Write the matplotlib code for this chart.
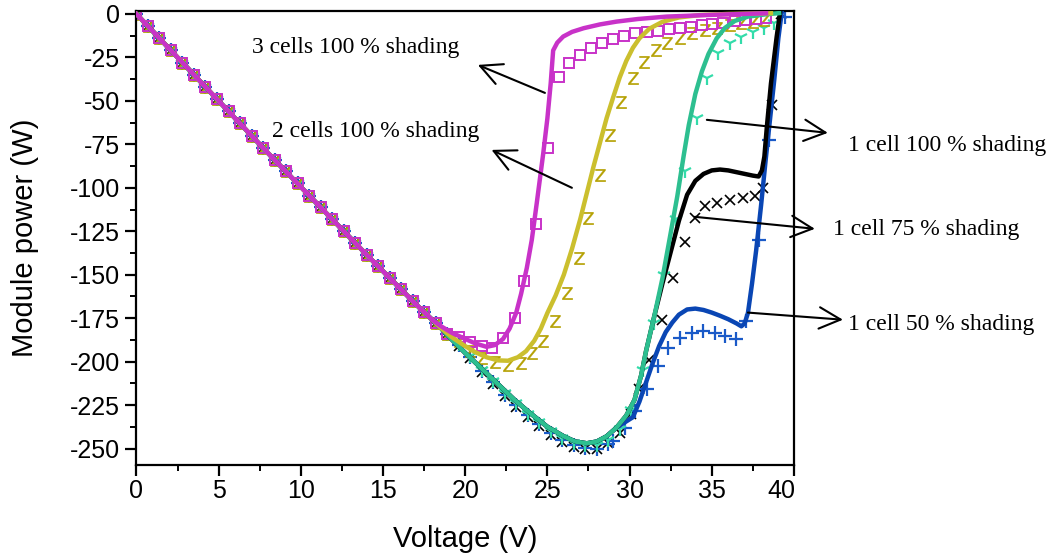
import matplotlib
matplotlib.use("Agg")
import matplotlib.pyplot as plt
from matplotlib.ticker import MultipleLocator, FuncFormatter

plt.rcParams["axes.unicode_minus"] = False
plt.rcParams["font.family"] = "Liberation Sans"

# ---- line data (V, W) ----
# common unshaded start, shared by every case
base_v = [0, 2, 4, 6, 8, 10, 12, 14, 16, 17, 18]
base_p = [0, -20, -40, -60, -80, -99.5, -119, -138.5, -157.5, -167, -176]

# unshaded continuation up to the maximum power point
mpp_v = [18.5, 19, 20, 21, 22, 23, 24, 25, 26, 26.7, 27.4, 28.0, 28.6, 29.2]
mpp_p = [-180.5, -185.5, -195, -204, -213, -222, -230, -237.5, -243, -246, -247, -246, -243, -238]

cell100_v = [29.8, 30.3, 30.7, 31.0, 31.5, 32.0, 32.5, 32.9, 33.3, 33.6, 34.0, 34.4, 34.8,
             35.3, 35.8, 36.4, 37.2, 38.2, 39.1]
cell100_p = [-231, -222, -208, -194, -174, -152, -126, -105, -81, -64, -46, -33, -23,
             -14, -8, -4, -1.5, -0.3, 0.5]

cell75_v = [29.8, 30.3, 30.7, 31.0, 31.5, 32.0, 32.5, 33.0, 33.5, 34.0, 34.5, 35.0, 35.5,
            36.0, 36.5, 37.0, 37.5, 37.85, 38.05, 38.2, 38.35, 38.6, 38.95, 39.15]
cell75_p = [-231, -222, -208, -194, -174, -155, -137, -119, -104, -96, -92, -90, -89.5,
            -90, -91, -92, -93, -93.5, -90, -82, -65, -40, -13, 0.5]

cell50_v = [29.7, 30.2, 30.6, 31.0, 31.4, 31.8, 32.2, 32.6, 33.0, 33.5, 34.0, 34.5, 35.0,
            35.5, 36.0, 36.5, 36.8, 37.0, 37.2, 37.45, 37.7, 38.0, 38.3, 38.55, 38.8, 39.05, 39.25]
cell50_p = [-235, -232, -223, -212, -201, -191, -183, -177.5, -173, -170, -169.5, -170.3, -171.8,
            -173.6, -175.6, -178, -179.7, -178, -172, -155, -136, -110, -82, -60, -38, -14, 0.5]

cells2_v = [18.5, 19.2, 19.9, 20.6, 21.3, 22.0, 22.6, 23.2, 23.7, 24.2, 24.6, 25.0, 25.5, 26.0,
            26.5, 27.0, 27.4, 27.8, 28.2, 28.6, 29.0, 29.4, 29.8, 30.2, 30.6, 31.2, 32.0, 33.0,
            34.3, 36.0, 38.6]
cells2_p = [-180.5, -186, -190.5, -194.5, -197.5, -199.3, -199.5, -197.5, -194, -188, -181, -172,
            -162, -150, -135, -118, -103, -88, -74, -60, -48, -36.5, -27, -19.5, -14, -8.5, -4.5,
            -2, -0.6, 0, 0.4]

cells3_v = [18.5, 19.2, 19.9, 20.6, 21.3, 21.8, 22.3, 22.7, 23.1, 23.4, 23.75, 24.05, 24.35,
            24.75, 25.0, 25.2, 25.35, 25.6, 25.96, 26.5, 27.2, 28.2, 29.2, 30.5, 32.25, 35.0, 38.3]
cells3_p = [-179.5, -183.5, -186.5, -189.5, -191.5, -190.5, -187, -181, -172, -161, -146, -130,
            -109, -80, -60, -40, -21, -16.5, -13, -10.3, -8.2, -6, -4.4, -2.9, -1.5, -0.5, 0.4]

# ---- measured points ----
meas_v = [0.0, 0.7, 1.4, 2.1, 2.8, 3.5, 4.2, 4.9, 5.6, 6.3, 7.0, 7.7, 8.4, 9.1, 9.8, 10.5,
          11.2, 11.9, 12.6, 13.3, 14.0, 14.7, 15.4, 16.1, 16.8, 17.5, 18.2, 18.9]
meas_p = [0, -7, -14, -21, -28, -35, -42, -49, -56, -63, -70, -77, -84, -90.5, -97.5, -104.5,
          -111, -118, -125, -132, -138.5, -145, -152, -158.5, -165, -171.5, -178, -184]

low_v = [19.6, 20.3, 21.0, 21.7, 22.4, 23.1, 23.8, 24.5, 25.2, 25.9, 26.6, 27.3, 28.0, 28.7]
low_p_x = [-191, -198, -206, -213, -220, -226, -232, -237, -242, -246, -249, -250.5, -250, -247]
low_p_y = [-190, -197, -205, -211, -218, -224, -230, -235, -240, -244, -247, -248, -248, -245]
low_p_plus = [-190.5, -197.5, -205.5, -212, -219, -225, -231, -236, -241, -245, -248, -249.5, -250, -247.5]

m100_v = [29.4, 30.1, 30.8, 31.5, 32.1, 32.8, 33.4, 34.1, 34.7, 35.4, 36.1, 36.8, 37.5, 38.2, 38.8]
m100_p = [-239, -228, -205, -178, -150, -118, -90.6, -60, -37, -22.6, -16.9, -13, -10.2, -8.2, -5.4]

m75_v = [29.4, 30.1, 30.6, 31.2, 31.95, 32.65, 33.36, 33.97, 34.58, 35.29, 36.1, 36.9, 37.6,
         38.1, 38.64, 39.2]
m75_p = [-241, -230, -216, -199, -176, -152, -131, -117.4, -110.7, -108.8, -106.9, -105.9, -105,
         -100, -52.3, 0]

m50_v = [29.0, 29.7, 30.3, 31.03, 31.74, 32.35, 33.06, 33.77, 34.48, 35.19, 35.8, 36.5, 37.1,
         37.9, 38.5, 39.45]
m50_p = [-245.8, -238, -228.5, -216, -202.7, -192.1, -186.4, -183.5, -182.6, -183.5, -185, -187,
         -176.8, -130, -72.4, -1.5]

m2_v = [19.6, 20.3, 21.0, 21.8, 22.6, 23.4, 24.04, 24.74, 25.46, 26.17, 26.9, 27.5, 28.2, 28.8,
        29.5, 30.2, 30.9, 31.6, 32.25, 33.06, 33.77, 34.6, 35.3, 36.1, 36.8, 37.5, 38.2]
m2_p = [-188, -194, -198, -200.5, -201.7, -200.7, -195, -188.3, -176.8, -160.5, -140.4, -117.4,
        -92.5, -69.5, -50.4, -37, -27.4, -20.7, -16.9, -14, -11.1, -9.2, -8.2, -6.3, -5.4, -4.4,
        -3.4]

m3_v = [19.6, 20.3, 21.0, 21.6, 22.3, 23.0, 23.6, 24.3, 25.05, 25.72, 26.3, 26.98, 27.63, 28.3,
        29.0, 29.65, 30.3, 31.03, 31.74, 32.4, 33.06, 33.73, 34.4, 35.0, 35.7, 36.4, 37.0, 37.7,
        38.3]
m3_p = [-186, -189, -191, -192, -186.4, -175, -153.8, -121, -77.2, -36.4, -28, -23.6, -19.7,
        -16.9, -14.4, -12.5, -11.1, -10.2, -9.6, -8.8, -8, -7.3, -6.5, -5.7, -5, -4.3, -3.6, -3,
        -2.5]

c_mag = "#c832c8"
c_yel = "#cbbf2e"
c_yel_m = "#b4a000"
c_grn = "#2dbf90"
c_grn_m = "#33dcaa"
c_blu = "#0a46b4"
c_blu_m = "#1a5ac8"

x_max = 40

fig = plt.figure(figsize=(10.48, 5.54), dpi=100)
ax = fig.add_axes([0.1302, 0.1606, 0.6274, 0.8195])

# measured markers, underneath the simulated curves
ax.plot(meas_v + low_v + m75_v, meas_p + low_p_x + m75_p, ls="none", marker="x",
        ms=7.5, mew=1.2, color="black", zorder=2)
ax.plot(meas_v + low_v + m50_v, meas_p + low_p_plus + m50_p, ls="none", marker="+",
        ms=10, mew=1.6, color=c_blu_m, zorder=2)
ax.plot(meas_v + low_v + m100_v, meas_p + low_p_y + m100_p, ls="none", marker="1",
        ms=10, mew=1.6, color=c_grn_m, zorder=2)
ax.plot(meas_v + m2_v, meas_p + m2_p, ls="none", marker=r"$\mathsf{Z}$",
        ms=9, mew=0.3, color=c_yel_m, zorder=2)
ax.plot(meas_v + m3_v, meas_p + m3_p, ls="none", marker="s", ms=7.5, mew=1.4,
        mfc="none", mec=c_mag, zorder=2)

# simulated curves
lw = 3.2
ax.plot(base_v + mpp_v + cell50_v, base_p + mpp_p + cell50_p, color=c_blu, lw=lw, zorder=3)
ax.plot(base_v + mpp_v + cell75_v, base_p + mpp_p + cell75_p, color="black", lw=lw, zorder=4)
ax.plot(base_v + mpp_v + cell100_v, base_p + mpp_p + cell100_p, color=c_grn, lw=lw, zorder=5)
ax.plot(base_v + cells2_v, base_p + cells2_p, color=c_yel, lw=lw, zorder=6)
ax.plot(base_v + cells3_v, base_p + cells3_p, color=c_mag, lw=lw, zorder=7)

ax.set_xlim(0, x_max)
ax.set_ylim(-259.5, 1.7)
ax.xaxis.set_major_locator(MultipleLocator(5))
ax.xaxis.set_minor_locator(MultipleLocator(2.5))
ax.yaxis.set_major_locator(MultipleLocator(25))
ax.yaxis.set_minor_locator(MultipleLocator(12.5))
# the end label is drawn separately so it can sit inside the frame
ax.xaxis.set_major_formatter(FuncFormatter(lambda v, _: "" if v >= x_max else f"{v:g}"))
ax.tick_params(which="major", direction="out", length=8, width=1.6, labelsize=18)
ax.tick_params(axis="x", which="major", pad=2)
ax.tick_params(axis="y", which="major", pad=4)
ax.tick_params(which="minor", direction="out", length=4.5, width=1.4)
for sp in ax.spines.values():
    sp.set_linewidth(1.6)

ax.annotate(f"{x_max:g}", xy=(x_max, 0), xycoords=("data", "axes fraction"),
            xytext=(1, -10), textcoords="offset points", ha="right", va="top",
            fontsize=18, annotation_clip=False)

ax.set_xlabel("Voltage (V)", fontsize=21, labelpad=16)
ax.set_ylabel("Module power (W)", fontsize=21, labelpad=22)

# annotations
arrows = [
    ((24.85, -45.4), (20.77, -29.3)),
    ((26.49, -100.0), (21.6, -78.2)),
    ((34.7, -60.9), (42.06, -68.4)),
    ((33.97, -116.7), (41.27, -123.6)),
    ((37.2, -171.8), (42.98, -175.9)),
]
for tail, head in arrows:
    ax.annotate("", xy=head, xytext=tail, annotation_clip=False,
                arrowprops=dict(arrowstyle="->,head_length=0.7,head_width=0.35",
                                color="black", lw=1.5, mutation_scale=22,
                                shrinkA=0, shrinkB=0), zorder=8)

labels = [
    ("3 cells 100 % shading", 0.2405, 0.9134),
    ("2 cells 100 % shading", 0.2595, 0.7635),
    ("1 cell 100 % shading", 0.8092, 0.7365),
    ("1 cell 75 % shading", 0.7948, 0.5866),
    ("1 cell 50 % shading", 0.8092, 0.4134),
]
for txt, fx, fy in labels:
    fig.text(fx, fy, txt, fontsize=17, family="Liberation Serif", ha="left", va="center")

fig.savefig("out.png", dpi=100)
